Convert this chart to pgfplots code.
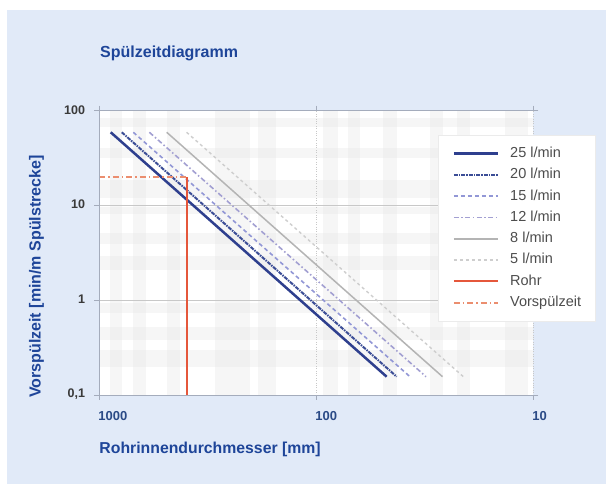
\documentclass[border=0pt]{standalone}
\usepackage{fontspec}
\setmainfont{Liberation Sans}
\usepackage{pgfplots}
\pgfplotsset{compat=1.18}
\definecolor{bgblue}{HTML}{E1EAF8}
\definecolor{labelblue}{HTML}{1E4599}
\definecolor{xtickblue}{HTML}{2A4A86}
\definecolor{ytickgray}{HTML}{3A3A3A}
\definecolor{tickgray}{HTML}{A4ACBC}
\definecolor{gridgray}{HTML}{C8C8C8}
\definecolor{bandgray}{HTML}{E4E4E4}
\definecolor{c25}{HTML}{2E3F8E}
\definecolor{c20}{HTML}{3B4D96}
\definecolor{c15}{HTML}{9297D6}
\definecolor{c12}{HTML}{A3A0D2}
\definecolor{c8}{HTML}{B4B4B4}
\definecolor{c5}{HTML}{CECECE}
\definecolor{rohr}{HTML}{E5573B}
\definecolor{vorsp}{HTML}{EB8E6F}
\definecolor{legtext}{HTML}{4D4D4D}
\begin{document}
\begin{tikzpicture}
\useasboundingbox (0,0) rectangle (606pt,484pt);
\fill[white] (0,0) rectangle (606pt,484pt);
\fill[bgblue] (7pt,0) rectangle (606pt,474pt);
% plot area background with faint plaid bands (decoration)
\fill[white] (99.3pt,89pt) rectangle (533.3pt,373.3pt);
\begin{scope}[fill=bandgray, fill opacity=0.3]
\foreach \a/\b in {110/122,133/146,167/180,215/250,258/276,323/338,348/360,383/397,430/443,457/470,505/528}
  {\fill (\a pt,89pt) rectangle (\b pt,373.3pt);}
\foreach \a/\b in {118/127,148/158,180/198,207/214,233/244,256/270,303/313,327/340,350/367}
  {\fill (99.3pt,484pt-\a pt) rectangle (533.3pt,484pt-\b pt);}
\end{scope}
\begin{axis}[
  at={(99.3pt,89pt)}, anchor=south west,
  scale only axis, width=434pt, height=284.3pt,
  xmode=log, ymode=log, x dir=reverse,
  xmin=10, xmax=1000, ymin=0.1, ymax=100,
  xtick={10,100,1000}, xticklabels={10,100,1000},
  ytick={0.1,1,10,100}, yticklabels={{0,1},1,10,100},
  xminorticks=false, yminorticks=false,
  tick align=outside, major tick length=5pt,
  tick style={color=tickgray, line width=0.8pt},
  axis line style={draw=none},
  ymajorgrids, xmajorgrids,
  y grid style={gridgray, line width=0.8pt},
  x grid style={gridgray, dotted, line width=1.1pt},
  /pgf/number format/assume math mode=true,
  xticklabel style={font=\fontsize{13}{13}\selectfont\bfseries, text=xtickblue, anchor=north west, inner sep=0pt, xshift=-1pt, yshift=-11pt},
  yticklabel style={font=\fontsize{12.5}{13}\selectfont\bfseries, text=ytickgray, anchor=east, inner sep=0pt, xshift=-9pt, yshift=1pt},
  title={Spülzeitdiagramm},
  title style={font=\fontsize{16}{16}\selectfont\bfseries, text=labelblue, at={(axis description cs:0.0016,1.1667)}, anchor=base west, inner sep=0pt},
  xlabel={Rohrinnendurchmesser [mm]},
  xlabel style={font=\fontsize{15.8}{16}\selectfont\bfseries, text=labelblue, at={(axis description cs:0,-0.205)}, anchor=base west, inner sep=0pt},
  ylabel={Vorspülzeit [min/m Spülstrecke]},
  ylabel style={font=\fontsize{16}{16}\selectfont\bfseries, text=labelblue, at={(axis description cs:-0.135,-0.0106)}, anchor=base west, inner sep=0pt},
  legend cell align=left,
  legend image code/.code={\draw[#1] (0pt,0pt) -- (44pt,0pt);},
  legend style={at={(axis description cs:0.780,0.9145)}, anchor=north west,
    draw=black!8, fill=white, line width=0.8pt,
    font=\fontsize{14.5}{16}\selectfont, text=legtext,
    inner xsep=14.5pt, inner ysep=11.5pt,
    nodes={inner sep=0pt, text height=10.5pt, text depth=3pt},
    row sep=7.8pt,
    /tikz/every odd column/.append style={column sep=11pt}},
]
\addplot[c25, line width=2.5pt] coordinates {(886,59.2) (47.4,0.156)};
\addlegendentry{25 l/min}
\addplot[c20, line width=2pt, dash pattern=on 4pt off 1pt on 1.5pt off 1pt] coordinates {(788,59.2) (42.6,0.156)};
\addlegendentry{20 l/min}
\addplot[c15, line width=1.6pt, dash pattern=on 4pt off 3pt] coordinates {(697,59.2) (37.0,0.156)};
\addlegendentry{15 l/min}
\addplot[c12, line width=1.6pt, dash pattern=on 5pt off 2.5pt on 1.5pt off 2.5pt] coordinates {(588,59.2) (31.2,0.156)};
\addlegendentry{12 l/min}
\addplot[c8, line width=1.5pt] coordinates {(489,59.2) (26.2,0.156)};
\addlegendentry{8 l/min}
\addplot[c5, line width=1.4pt, dash pattern=on 3pt off 3pt] coordinates {(396,59.2) (21.0,0.156)};
\addlegendentry{5 l/min}
\addplot[rohr, line width=2pt] coordinates {(396,0.1) (396,20)};
\addlegendentry{Rohr}
\addplot[vorsp, line width=1.6pt, dash pattern=on 6pt off 3pt on 1.5pt off 3pt] coordinates {(1000,20) (396,20)};
\addlegendentry{Vorspülzeit}
\end{axis}
\draw[tickgray, line width=0.9pt] (533.3pt,373.3pt) -- (99.3pt,373.3pt) -- (99.3pt,89pt) -- (533.3pt,89pt);
\end{tikzpicture}
\end{document}
